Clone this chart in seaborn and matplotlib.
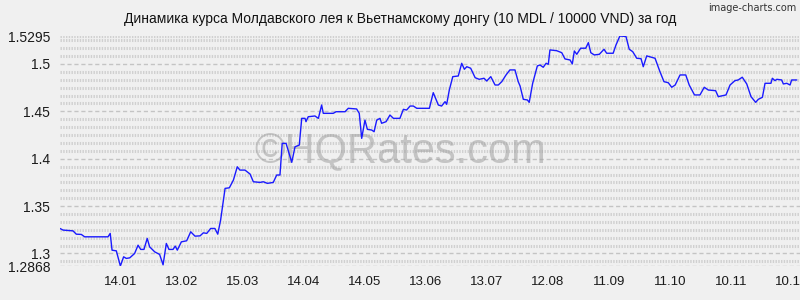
import matplotlib
matplotlib.use("Agg")
import matplotlib.pyplot as plt
import seaborn as sns
import numpy as np
import pandas as pd

# ---- data ----
days = [0, 1.5, 6.4, 8.0, 10.5, 12.1, 23.6, 24.7, 25.6, 27.7, 29.7, 31.3, 32.6, 34.3, 36.7,
        38.4, 39.7, 41.3, 42.9, 44.1, 46.6, 49.0, 50.7, 52.3, 53.6, 55.6, 56.7, 57.7, 59.7, 61.3,
        62.3, 64.3, 66.4, 68.9, 70.5, 72.2, 74.1, 76.2, 77.6, 79.0, 81.2, 83.3, 85.3, 87.2, 88.5,
        91.0, 93.5, 95.1, 98.4, 100.0, 102.0, 104.9, 106.6, 108.2, 109.3, 111.2, 114.0, 115.6,
        117.7, 118.9, 120.5,
        121.0, 122.1, 125.4, 127.1, 128.7, 129.5, 134.4, 135.8, 140.2, 141.8, 145.9, 147.2, 148.4,
        150.0, 151.2, 153.3, 154.5, 155.8, 157.4, 158.2, 160.4, 162.3, 164.0, 167.2, 168.9, 170.5,
        172.2, 173.8, 175.5, 180.4,
        181.7, 183.6, 186.1, 187.7, 189.4, 190.2, 191.5, 193.2, 195.9, 197.6, 198.9, 200.1, 202.0,
        204.2, 206.2, 208.6, 209.9, 211.9, 214.0, 215.6, 217.3, 219.4, 221.3, 223.8, 225.4, 226.3,
        227.9, 229.9, 230.8, 232.5, 234.8, 236.1, 237.7, 239.1, 240.2,
        241.0, 244.3, 246.8, 248.4, 250.9, 252.0, 253.0, 254.2, 256.1, 258.6, 259.9, 261.1, 262.8,
        265.3, 267.6, 268.9, 272.1, 273.5, 275.4, 278.4, 280.0, 281.7, 283.7, 285.8, 286.9, 288.6,
        292.7, 295.1, 297.1, 299.2,
        300.9, 302.6, 305.0, 307.8, 309.5, 312.1, 314.8, 316.9, 318.9, 322.5, 323.8, 327.6, 329.6,
        332.0, 333.6, 335.6, 337.8, 339.9, 342.2, 343.5, 345.5, 346.8, 349.7, 350.4, 351.7, 352.6,
        355.0, 355.8, 357.5, 359.1, 359.9, 362.4]

rates = [1.3264, 1.3247, 1.3239, 1.3204, 1.3201, 1.3176, 1.3176, 1.3212, 1.3035, 1.3028, 1.2868,
         1.2965, 1.2948, 1.2954, 1.3000, 1.3088, 1.3043, 1.3043, 1.3159, 1.3070, 1.3017, 1.2990,
         1.2880, 1.3106, 1.3043, 1.3043, 1.3078, 1.3035, 1.3123, 1.3130,
         1.3134, 1.3229, 1.3183, 1.3186, 1.3218, 1.3212, 1.3264, 1.3264, 1.3204, 1.3352, 1.3687,
         1.3693, 1.3775, 1.3915, 1.3880, 1.3880, 1.3838, 1.3757, 1.3750, 1.3757, 1.3740, 1.3750,
         1.3828, 1.3828, 1.4162, 1.4162, 1.3962, 1.4126, 1.4144, 1.4426, 1.4426,
         1.4391, 1.4443, 1.4451, 1.4426, 1.4567, 1.4479, 1.4479, 1.4496, 1.4496, 1.4532, 1.4525,
         1.4479, 1.4215, 1.4408, 1.4310, 1.4303, 1.4285, 1.4408, 1.4426, 1.4374, 1.4391, 1.4461,
         1.4426, 1.4426, 1.4521, 1.4514, 1.4556, 1.4556, 1.4532, 1.4532,
         1.4532, 1.4697, 1.4567, 1.4556, 1.4602, 1.4574, 1.4725, 1.4866, 1.4873, 1.5007, 1.4944,
         1.4971, 1.4955, 1.4855, 1.4838, 1.4849, 1.4820, 1.4866, 1.4778, 1.4778, 1.4813, 1.4884,
         1.4937, 1.4937, 1.4813, 1.4768, 1.4627, 1.4620, 1.4595, 1.4796, 1.4979, 1.4989, 1.4965,
         1.5007, 1.4997,
         1.5148, 1.5140, 1.5119, 1.5053, 1.5042, 1.5000, 1.5137, 1.5102, 1.5166, 1.5166, 1.5225,
         1.5119, 1.5095, 1.5102, 1.5155, 1.5113, 1.5113, 1.5201, 1.5295, 1.5290, 1.5155, 1.5130,
         1.5060, 1.5056, 1.4971, 1.5085, 1.5060, 1.4919, 1.4813, 1.4802,
         1.4754, 1.4778, 1.4884, 1.4884, 1.4778, 1.4673, 1.4673, 1.4754, 1.4725, 1.4718, 1.4655,
         1.4673, 1.4778, 1.4824, 1.4831, 1.4860, 1.4789, 1.4655, 1.4595, 1.4627, 1.4648, 1.4796,
         1.4796, 1.4849, 1.4824, 1.4838, 1.4831, 1.4789, 1.4796, 1.4778, 1.4831, 1.4831]

x_tick_days = [30, 60, 90, 120, 150, 180, 210, 240, 270, 300, 330, 360]
x_tick_labels = ["14.01", "13.02", "15.03", "14.04", "14.05", "13.06",
                 "13.07", "12.08", "11.09", "11.10", "10.11", "10.12"]
y_ticks = [1.2868, 1.3, 1.35, 1.4, 1.45, 1.5, 1.5295]
y_tick_labels = ["1.2868", "1.3", "1.35", "1.4", "1.45", "1.5", "1.5295"]
y_min, y_max = 1.2868, 1.5295
x_min, x_max = 0, 364

title = "Динамика курса Молдавского лея к Вьетнамскому донгу (10 MDL / 10000 VND) за год"

# ---- style ----
sns.set_style("white")
plt.rcParams["font.family"] = ["Liberation Sans", "DejaVu Sans"]
BG = "#f0f0f0"

fig = plt.figure(figsize=(8, 3), dpi=100, facecolor=BG)
ax = fig.add_axes([60 / 800, 1 - 266 / 300, 740 / 800, 230 / 300])
ax.set_facecolor(BG)

# hatch-like minor grid rows
minor_levels = np.arange(1.3 - 0.05 / 6, y_max + 1e-9, 0.05 / 6)
for lv in minor_levels:
    if min(abs(lv - t) for t in y_ticks) < 1e-4:
        continue
    ax.axhline(lv, color="#d0d0d0", lw=2.2, linestyle=(0, (0.45, 0.45)), zorder=0)
ax.axhline(y_max, color="#d0d0d0", lw=2.2, linestyle=(0, (0.45, 0.45)), zorder=0)
for t in y_ticks[:-1]:
    ax.axhline(t, color="#c4c4c4", lw=1.0, linestyle=(0, (3, 2)), zorder=0)

df = pd.DataFrame({"day": days, "rate": rates})
sns.lineplot(data=df, x="day", y="rate", ax=ax, color="#1a1aff", lw=1.0, zorder=3)

ax.set_xlim(x_min, x_max)
ax.set_ylim(y_min, y_max)
ax.set_xticks(x_tick_days)
ax.set_xticklabels(x_tick_labels)
ax.set_yticks(y_ticks)
ax.set_yticklabels(y_tick_labels)
ax.set_xlabel("")
ax.set_ylabel("")
ax.tick_params(axis="both", length=0, colors="#1a1a1a")
ax.tick_params(axis="y", pad=7, labelsize=10)
ax.tick_params(axis="x", pad=7, labelsize=9.5)
for s in ax.spines.values():
    s.set_visible(False)

# watermark
ax.text(0.46, 0.5, "©HQRates.com", transform=ax.transAxes, ha="center", va="center",
        fontsize=30, color="#a0a0a0", alpha=0.55, zorder=2)

fig.text(0.5, 1 - 19 / 300, title, ha="center", va="center", fontsize=10, color="#111111")
fig.text(0.995, 1 - 8 / 300, "image-charts.com", ha="right", va="center", fontsize=7,
         color="#333333", family=["Liberation Sans Narrow", "DejaVu Sans Condensed", "DejaVu Sans"])

fig.savefig("out.png", dpi=100, facecolor=BG)
